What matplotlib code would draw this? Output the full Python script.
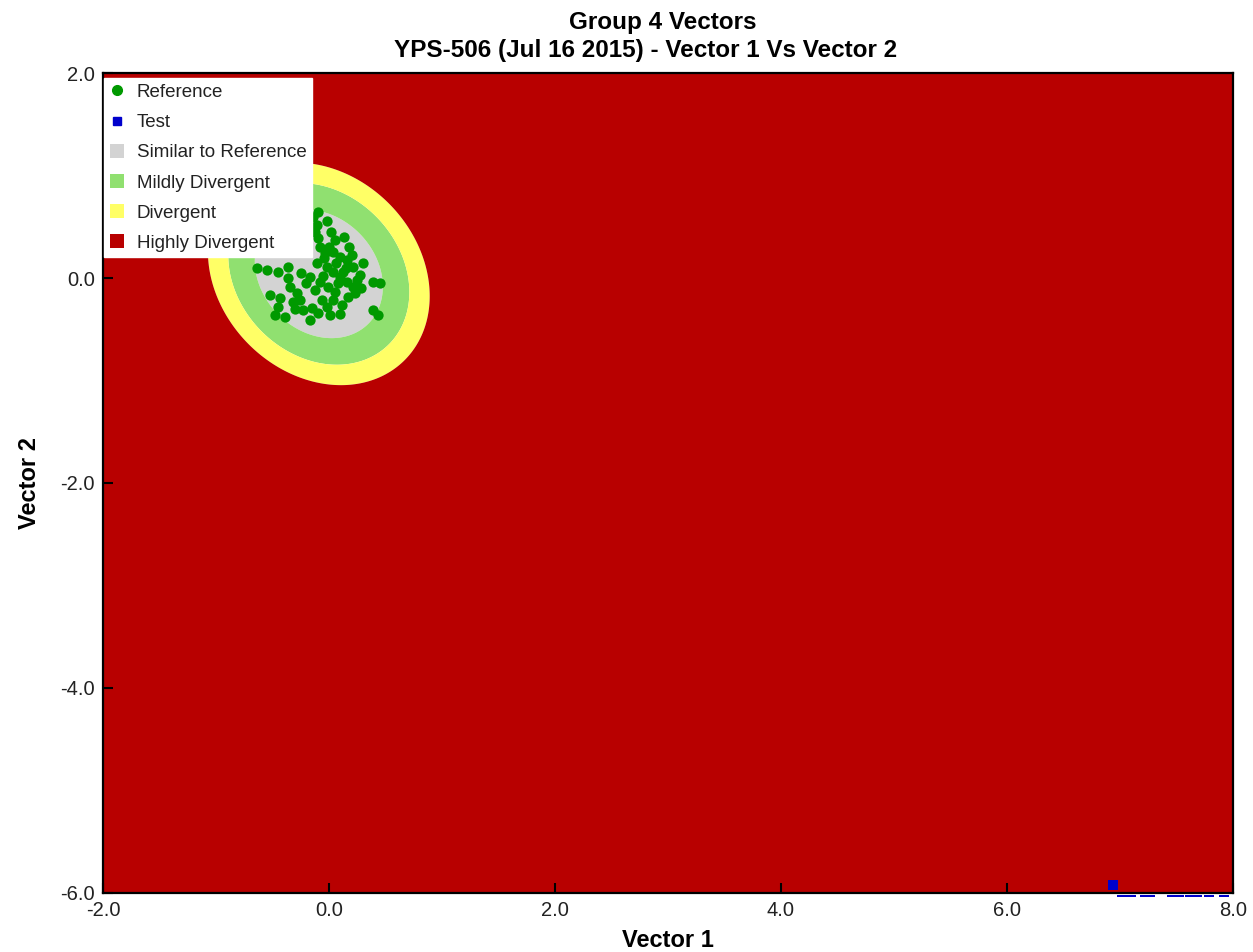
import numpy as np
import matplotlib.pyplot as plt
from matplotlib.lines import Line2D
from matplotlib.patches import Patch, Rectangle

plt.rcParams['font.family'] = ['Liberation Sans', 'DejaVu Sans']

# reference population (Vector 1, Vector 2)
ref_v1 = [-0.097, -0.018, -0.106, -0.124, -0.097, 0.053, 0.133, -0.637, -0.549, -0.451,
          -0.363, -0.035, 0.035, 0.097, 0.159, 0.212, 0.274, -0.106, -0.018, 0.035,
          0.097, 0.159, 0.212, -0.168, -0.080, -0.009, 0.053, -0.363, -0.345, -0.283,
          -0.257, -0.319, -0.522, -0.434, -0.451, -0.389, -0.478, -0.230, -0.150, -0.097,
          -0.168, 0.009, 0.115, 0.168, 0.230, 0.389, 0.451, 0.389, 0.434, -0.062,
          -0.124, 0.035, 0.000, 0.060, 0.120, -0.050, 0.180, 0.250, -0.200, 0.080,
          -0.040, 0.200, -0.300, -0.020, 0.100, 0.300, -0.140, -0.080, 0.150, 0.020,
          -0.250, 0.280]
ref_v2 = [0.644, 0.556, 0.517, 0.449, 0.390, 0.371, 0.400, 0.098, 0.078, 0.059,
          0.107, 0.244, 0.254, 0.205, 0.176, 0.107, 0.029, 0.146, 0.107, 0.059,
          0.010, -0.039, -0.088, 0.010, -0.039, -0.088, -0.137, 0.000, -0.088, -0.146,
          -0.215, -0.234, -0.166, -0.195, -0.283, -0.380, -0.361, -0.312, -0.293, -0.341,
          -0.410, -0.361, -0.263, -0.185, -0.146, -0.039, -0.049, -0.312, -0.361, -0.215,
          -0.117, -0.215, 0.300, 0.150, 0.060, 0.020, 0.300, -0.020, -0.050, -0.050,
          0.200, 0.220, -0.300, -0.280, -0.350, 0.150, 0.600, 0.300, 0.100, 0.450,
          0.050, -0.100]

# test samples
test_v1 = [6.94, 7.02, 7.10, 7.22, 7.27, 7.46, 7.52, 7.62, 7.68, 7.79, 7.92]
test_v2 = [-5.92, -6.065, -6.065, -6.065, -6.065, -6.065, -6.065, -6.065, -6.065, -6.065, -6.065]

# reference distribution used for the divergence zones
ref_center = [-0.09, 0.04]
ref_sd = [0.264, 0.292]
ref_corr = -0.2
zone_probs = [0.90, 0.99, 0.999]

zone_names = ['Similar to Reference', 'Mildly Divergent', 'Divergent', 'Highly Divergent']
zone_colors = ['#d3d3d3', '#90e070', '#ffff66', '#b80000']

# mahalanobis distance over the plotting window
gx, gy = np.meshgrid(np.linspace(-2, 8, 1000), np.linspace(-6, 2, 800))
cov = np.array([[ref_sd[0] ** 2, ref_corr * ref_sd[0] * ref_sd[1]],
                [ref_corr * ref_sd[0] * ref_sd[1], ref_sd[1] ** 2]])
inv = np.linalg.inv(cov)
dx = gx - ref_center[0]
dy = gy - ref_center[1]
d2 = inv[0, 0] * dx ** 2 + 2 * inv[0, 1] * dx * dy + inv[1, 1] * dy ** 2
levels = [0] + [-2 * np.log(1 - p) for p in zone_probs] + [d2.max() + 1]

fig = plt.figure(figsize=(12.53, 9.52), dpi=100)
ax = fig.add_axes([0.0822, 0.062, 0.9018, 0.8613])

ax.contourf(gx, gy, d2, levels=levels, colors=zone_colors, antialiased=True)
ax.scatter(ref_v1, ref_v2, s=55, color='#009900', linewidths=0, zorder=3)
sc = ax.scatter(test_v1, test_v2, s=42, marker='s', color='#0000cc', linewidths=0, zorder=3)
# let the test points just under the bottom edge peek out a little
sc.set_clip_path(Rectangle((0, -0.0035), 1, 1.0035, transform=ax.transAxes))

ax.set_xlim(-2, 8)
ax.set_ylim(-6, 2)
ax.set_xticks(np.arange(-2, 9, 2))
ax.set_yticks(np.arange(-6, 3, 2))
ax.xaxis.set_major_formatter(plt.FormatStrFormatter('%.1f'))
ax.yaxis.set_major_formatter(plt.FormatStrFormatter('%.1f'))
ax.tick_params(direction='in', length=7, width=1.5, labelsize=14.5,
               labelcolor='#222222', pad=6)
for sp in ax.spines.values():
    sp.set_linewidth(1.6)
    sp.set_zorder(5)

fig.text(0.529, 0.976, 'Group 4 Vectors', ha='center', va='center',
         fontsize=17.5, fontweight='bold')
fig.text(0.515, 0.9465, 'YPS-506 (Jul 16 2015) - Vector 1 Vs Vector 2', ha='center',
         va='center', fontsize=17.5, fontweight='bold')
ax.set_xlabel('Vector 1', fontsize=17, fontweight='bold', labelpad=6)
ax.set_ylabel('Vector 2', fontsize=17, fontweight='bold', labelpad=14)

handles = [Line2D([], [], marker='o', linestyle='none', color='#009900', markersize=7),
           Line2D([], [], marker='s', linestyle='none', color='#0000cc', markersize=6)]
handles += [Patch(facecolor=c, edgecolor='none') for c in zone_colors]
labels = ['Reference', 'Test'] + zone_names
leg = ax.legend(handles, labels, loc='upper left', bbox_to_anchor=(0.0, 0.995),
                fontsize=13.5, frameon=True, fancybox=False, framealpha=1,
                edgecolor='white', borderaxespad=0.05, borderpad=0.3,
                handlelength=0.75, handleheight=0.75, handletextpad=0.7,
                labelspacing=0.68)
for t in leg.get_texts():
    t.set_color('#222222')
leg.set_zorder(6)

fig.savefig('out.png', dpi=100)
